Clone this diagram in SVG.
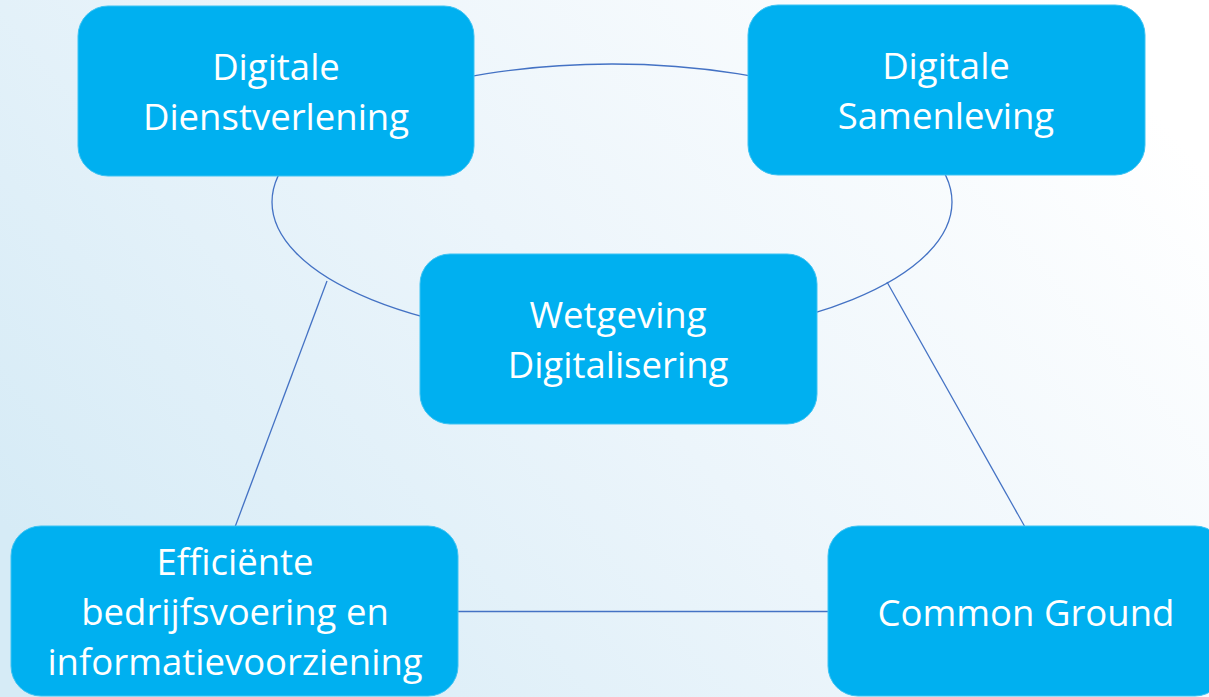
<svg xmlns="http://www.w3.org/2000/svg" width="1209" height="697" viewBox="0 0 1209 697">
<defs>
<linearGradient id="bg" x1="0" y1="0.75" x2="1" y2="0.25">
<stop offset="0" stop-color="#d6ebf6"/>
<stop offset="0.5" stop-color="#ecf5fb"/>
<stop offset="1" stop-color="#ffffff"/>
</linearGradient>
<style>
.box{fill:#00b0f0;stroke:#3cc3f3;stroke-width:1}
.lbl{font-family:"Open Sans","Noto Sans","DejaVu Sans",sans-serif;font-size:36.5px;fill:#ffffff;text-anchor:middle}
.conn{fill:none;stroke:#4472c4;stroke-width:1.3}
</style>
</defs>
<rect width="1209" height="697" fill="url(#bg)"/>
<g id="connectors">
<ellipse class="conn" cx="612" cy="202" rx="340" ry="138"/>
<line class="conn" x1="327" y1="281" x2="235" y2="527"/>
<line class="conn" x1="887" y1="282" x2="1025" y2="527"/>
<line class="conn" x1="458" y1="611.5" x2="828" y2="611.5"/>
</g>
<g id="node-dienstverlening">
<rect class="box" x="78" y="6" width="396" height="170" rx="30"/>
<text class="lbl" x="276" y="80">Digitale</text>
<text class="lbl" x="276" y="130">Dienstverlening</text>
</g>
<g id="node-samenleving">
<rect class="box" x="748" y="5" width="397" height="170" rx="30"/>
<text class="lbl" x="946" y="79">Digitale</text>
<text class="lbl" x="946" y="129">Samenleving</text>
</g>
<g id="node-wetgeving">
<rect class="box" x="420" y="254" width="397" height="170" rx="30"/>
<text class="lbl" x="618" y="328">Wetgeving</text>
<text class="lbl" x="618" y="378">Digitalisering</text>
</g>
<g id="node-bedrijfsvoering">
<rect class="box" x="11" y="526" width="447" height="170" rx="30"/>
<text class="lbl" x="235" y="575">Efficiënte</text>
<text class="lbl" x="235" y="625">bedrijfsvoering en</text>
<text class="lbl" x="235" y="675">informatievoorziening</text>
</g>
<g id="node-commonground">
<rect class="box" x="828" y="526" width="397" height="170" rx="30"/>
<text class="lbl" x="1026" y="626">Common Ground</text>
</g>
</svg>
